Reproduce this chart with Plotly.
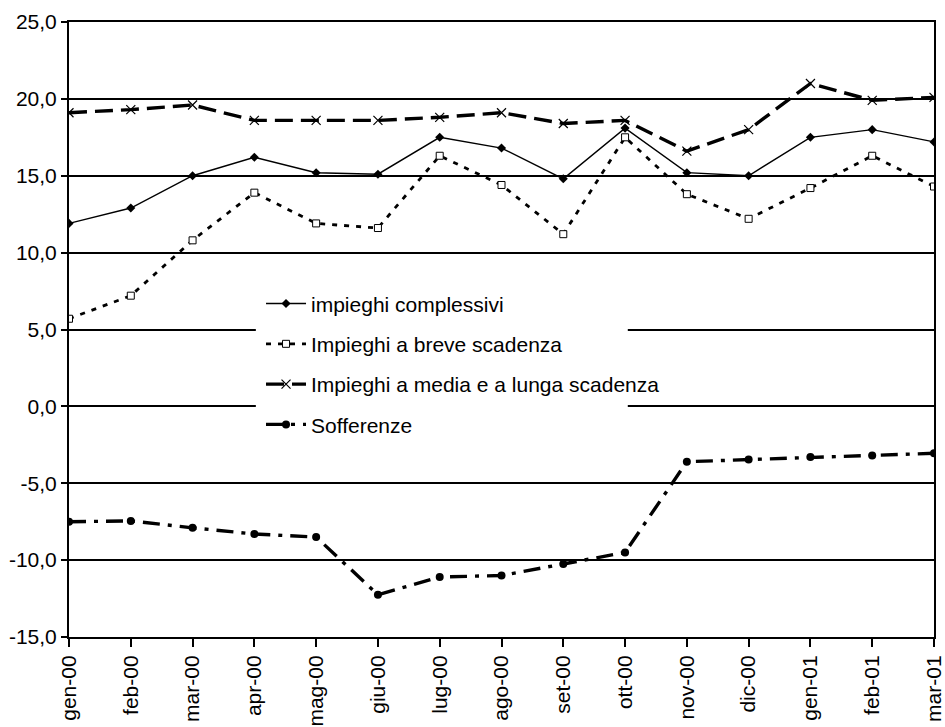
import plotly.graph_objects as go

# Months on the category axis
months = ["gen-00", "feb-00", "mar-00", "apr-00", "mag-00", "giu-00", "lug-00",
          "ago-00", "set-00", "ott-00", "nov-00", "dic-00", "gen-01", "feb-01", "mar-01"]

# Year-on-year growth rates (%)
impieghi_complessivi = [11.9, 12.9, 15.0, 16.2, 15.2, 15.1, 17.5, 16.8, 14.8, 18.1,
                        15.2, 15.0, 17.5, 18.0, 17.2]
impieghi_breve = [5.7, 7.2, 10.8, 13.9, 11.9, 11.6, 16.3, 14.4, 11.2, 17.5,
                  13.8, 12.2, 14.2, 16.3, 14.3]
impieghi_medio_lungo = [19.1, 19.3, 19.6, 18.6, 18.6, 18.6, 18.8, 19.1, 18.4, 18.6,
                        16.6, 18.0, 21.0, 19.9, 20.1]
sofferenze = [-7.5, -7.45, -7.9, -8.3, -8.5, -12.25, -11.1, -11.0, -10.25, -9.5,
              -3.6, -3.45, -3.3, -3.2, -3.05]

y_ticks = [-15, -10, -5, 0, 5, 10, 15, 20, 25]
y_tick_labels = ["-15,0", "-10,0", "-5,0", "0,0", "5,0", "10,0", "15,0", "20,0", "25,0"]

FONT = "Liberation Sans, Arial, sans-serif"

fig = go.Figure()

fig.add_trace(go.Scatter(
    x=months, y=impieghi_complessivi, name="impieghi complessivi",
    mode="lines+markers", legendgroup="a",
    line=dict(color="black", width=1.4),
    marker=dict(symbol="diamond", size=7, color="black"),
))
fig.add_trace(go.Scatter(
    x=months, y=impieghi_breve, name="Impieghi a breve scadenza",
    mode="lines+markers", legendgroup="b",
    line=dict(color="black", width=2.8, dash="5px,7px"),
    marker=dict(symbol="square", size=7, color="white",
                line=dict(color="black", width=1)),
))
fig.add_trace(go.Scatter(
    x=months, y=impieghi_medio_lungo, name="Impieghi a media e a lunga scadenza",
    mode="lines+markers", legendgroup="c",
    line=dict(color="black", width=3.4, dash="18px,8px"),
    marker=dict(symbol="x-thin", size=9, color="black",
                line=dict(color="black", width=1.2)),
))
fig.add_trace(go.Scatter(
    x=months, y=sofferenze, name="Sofferenze",
    mode="lines+markers", legendgroup="d",
    line=dict(color="black", width=3.4, dash="17px,8px,4px,8px"),
    marker=dict(symbol="circle", size=8, color="black"),
))

# white panel behind the legend, covering the gridlines there
fig.add_shape(type="rect", xref="paper", yref="paper",
              x0=0.216, x1=0.646, y0=0.325, y1=0.569,
              fillcolor="white", line=dict(width=0), layer="above")

fig.update_layout(
    width=945, height=727,
    margin=dict(l=69, r=11, t=22, b=90),
    paper_bgcolor="white", plot_bgcolor="white",
    font=dict(family=FONT, size=21, color="black"),
    showlegend=True,
    legend=dict(
        x=0.222, y=0.575, xanchor="left", yanchor="top",
        bgcolor="rgba(0,0,0,0)", borderwidth=0,
        traceorder="grouped", tracegroupgap=10,
        font=dict(family=FONT, size=21, color="black"),
        itemwidth=40,
    ),
    xaxis=dict(
        type="category", categoryarray=months, range=[0, 14],
        showline=True, linecolor="black", linewidth=2, mirror=True,
        ticks="outside", ticklen=8, tickwidth=1.5, tickcolor="black",
        tickangle=-90, showgrid=False, zeroline=False, automargin=False,
        tickfont=dict(family=FONT, size=21, color="black"),
    ),
    xaxis2=dict(
        overlaying="x", anchor="y", type="linear", range=[0, 14],
        tickmode="array", tickvals=list(range(len(months))),
        ticks="inside", ticklen=8, tickwidth=1.5, tickcolor="black",
        showticklabels=False, showgrid=False, zeroline=False, showline=False,
    ),
    yaxis=dict(
        range=[-15, 25], tickmode="array", tickvals=y_ticks, ticktext=y_tick_labels,
        showline=True, linecolor="black", linewidth=2, mirror=True,
        ticks="outside", ticklen=6, tickwidth=1.5, tickcolor="black",
        showgrid=True, gridcolor="black", gridwidth=1.5, zeroline=False,
        automargin=False,
        tickfont=dict(family=FONT, size=21, color="black"),
    ),
)

fig.write_html("out.html")
